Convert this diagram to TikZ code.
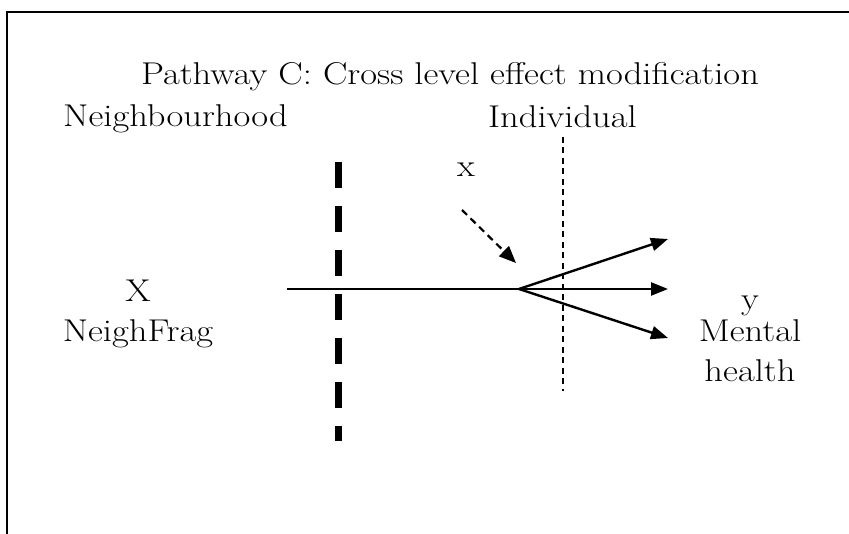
\documentclass[tikz,border=0pt]{standalone}
\usepackage{fontspec}
\setmainfont{Latin Modern Roman}[FakeStretch=1.16]
\usetikzlibrary{arrows.meta}
\begin{document}
\begin{tikzpicture}[x=1pt,y=-1pt,
  lbl/.style={anchor=base,inner sep=0pt,font=\fontsize{31.5}{36}\selectfont},
  conn/.style={line width=2.4pt,-{Triangle[length=17pt,width=13pt]}},
  plain/.style={line width=2.4pt},
  bigdash/.style={line width=7pt,dash pattern=on 26pt off 18pt},
  smalldash/.style={line width=1.8pt,dash pattern=on 6pt off 4.5pt},
  modarrow/.style={line width=2.2pt,dash pattern=on 7pt off 5pt,-{Triangle[length=17pt,width=14pt]}}]
\useasboundingbox (0,0) rectangle (849,534);
% frame (cropped)
\draw[line width=2pt] (7,534) -- (7,12) -- (849,12);
% texts
\node[lbl] (title) at (450,85) {Pathway C: Cross level effect modification};
\node[lbl] (nbh) at (175.5,127) {Neighbourhood};
\node[lbl] (ind) at (562.5,128) {Individual};
\node[lbl] (xs) at (466,177) {x};
\node[lbl] (X) at (138,302) {X};
\node[lbl] (nf) at (138,342) {NeighFrag};
\node[lbl] (y) at (750,310) {y};
\node[lbl] (mh1) at (750,342) {Mental};
\node[lbl] (mh2) at (750,382) {health};
% level separators
\coordinate (sepAtop) at (338,162);
\coordinate (sepAbot) at (338,441);
\coordinate (sepBtop) at (563,137);
\coordinate (sepBbot) at (563,391);
\draw[bigdash] (sepAtop) -- (sepAbot);
\draw[smalldash] (sepBtop) -- (sepBbot);
% main pathway
\coordinate (start) at (287,289);
\coordinate (fork) at (519,289);
\coordinate (eup) at (668,239);
\coordinate (emid) at (668,289);
\coordinate (edown) at (668,338);
\draw[plain] (start) -- (fork);
\draw[conn] (fork) -- (eup);
\draw[conn] (fork) -- (emid);
\draw[conn] (fork) -- (edown);
% modifier
\coordinate (ms) at (462,210);
\coordinate (me) at (516,263);
\draw[modarrow] (ms) -- (me);
\end{tikzpicture}
\end{document}
